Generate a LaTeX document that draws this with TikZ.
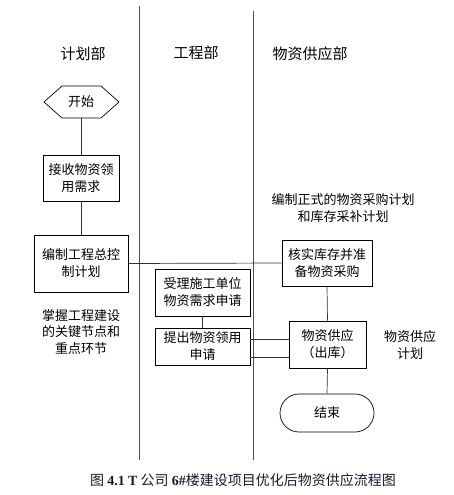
\documentclass[tikz,border=0pt]{standalone}
\usepackage{fontspec}
\setmainfont{Noto Sans CJK SC}
\newfontfamily\latserif{Liberation Serif}
\usetikzlibrary{shapes.misc}
\definecolor{lanegray}{RGB}{80,80,80}
\definecolor{capcol}{RGB}{25,25,45}
\tikzset{
  boxnode/.style={draw=black, line width=0.7pt, inner sep=0pt, align=center,
    font=\fontsize{13}{17}\selectfont},
  hdr/.style={inner sep=0pt, font=\fontsize{15}{18}\selectfont},
  note/.style={inner sep=0pt, align=center, font=\fontsize{13}{16.5}\selectfont},
  link/.style={draw=black!80, line width=0.7pt},
  lane/.style={draw=lanegray, line width=0.9pt}
}
\begin{document}
\begin{tikzpicture}[x=1pt,y=-1pt]
\useasboundingbox (0,0) rectangle (453,495);
% swimlane separators
\draw[lane] (139,6) -- (139,460);
\draw[lane] (253,11) -- (253,460);
% headers
\node[hdr] (h1) at (83,54) {计划部};
\node[hdr] (h2) at (196,53) {工程部};
\node[hdr] (h3) at (310,54) {物资供应部};
% start hexagon
\draw[black, line width=0.7pt] (44,102) -- (62,86) -- (101,86) -- (119,102) -- (101,118) -- (62,118) -- cycle;
\node[inner sep=0pt, font=\fontsize{13}{17}\selectfont] (start) at (81,102) {开始};
\coordinate (startb) at (81,118);
% boxes
\node[boxnode, minimum width=76pt, minimum height=46pt] (recv) at (81,178) {接收物资领\\用需求};
\node[boxnode, minimum width=94pt, minimum height=57pt] (plan) at (81,263.5) {编制工程总控\\制计划};
\node[boxnode, minimum width=90pt, minimum height=46pt] (check) at (327,263) {核实库存并准\\备物资采购};
\node[boxnode, minimum width=95pt, minimum height=47pt] (accept) at (202.5,292.5) {受理施工单位\\物资需求申请};
\node[boxnode, minimum width=95pt, minimum height=37pt] (apply) at (202.5,346.5) {提出物资领用\\申请};
\node[boxnode, minimum width=77pt, minimum height=47pt] (supply) at (327.5,344.5) {物资供应\\（出库）};
\node[boxnode, rounded rectangle, minimum width=94pt, minimum height=38pt] (end) at (327,413) {结束};
% notes
\node[note] (n1) at (343,208) {编制正式的物资采购计划\\和库存采补计划};
\node[note] (n2) at (81,332) {掌握工程建设\\的关键节点和\\重点环节};
\node[note] (n3) at (410,345) {物资供应\\计划};
% connectors
\draw[link] (startb) -- (recv.north);
\draw[link] (recv.south) -- (plan.north);
\draw[link] (plan.east) -- (check.west);
\draw[link] (accept.south) -- (apply.north);
\draw[link] (check.south) -- (supply.north);
\draw[link] ([yshift=7.5pt]apply.east) -- ([yshift=7.5pt]apply.east -| supply.west);
\draw[link] ([yshift=-10.5pt]apply.east) -- ([yshift=-10.5pt]apply.east -| supply.west);
\draw[link] (supply.south) -- (end.north);
% caption
\node[inner sep=0pt, text=capcol, font=\fontsize{14}{16}\selectfont] (cap) at (243,480) {图 {\latserif\bfseries 4.1 T} 公司 {\latserif\bfseries 6\#}楼建设项目优化后物资供应流程图};
\end{tikzpicture}
\end{document}
